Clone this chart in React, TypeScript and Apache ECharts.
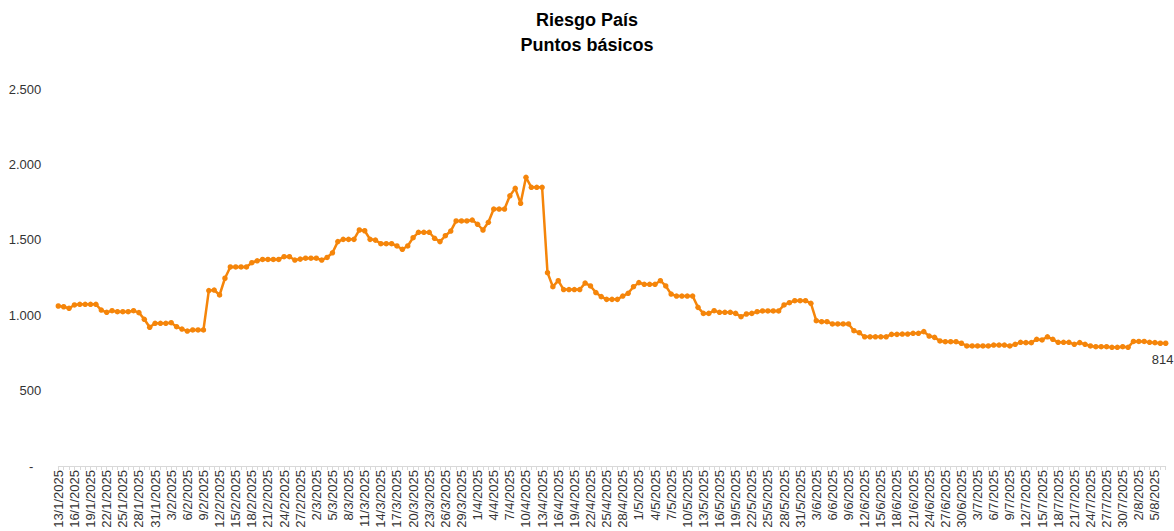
import React, { useEffect, useRef } from "react";
import * as echarts from "echarts";

// Daily series from 13/1/2025 (one point per calendar day)
const startDay = { d: 13, m: 1, y: 2025 };
const riesgoPais: number[] = [
  1061, 1056, 1046, 1068, 1072, 1072, 1072, 1072, 1034, 1019,
  1030, 1023, 1023, 1023, 1030, 1017, 973, 920, 946, 946,
  946, 950, 924, 908, 895, 902, 902, 902, 1163, 1167,
  1134, 1245, 1320, 1320, 1320, 1320, 1348, 1361, 1370, 1370,
  1370, 1370, 1388, 1388, 1366, 1372, 1378, 1378, 1378, 1366,
  1383, 1414, 1488, 1503, 1503, 1503, 1565, 1560, 1503, 1498,
  1474, 1474, 1474, 1459, 1437, 1459, 1514, 1550, 1550, 1550,
  1510, 1488, 1527, 1558, 1625, 1625, 1625, 1631, 1603, 1565,
  1616, 1704, 1704, 1704, 1792, 1841, 1742, 1914, 1848, 1848,
  1848, 1282, 1189, 1229, 1170, 1170, 1170, 1170, 1213, 1194,
  1150, 1123, 1105, 1105, 1105, 1127, 1145, 1189, 1216, 1205,
  1205, 1205, 1229, 1194, 1140, 1127, 1127, 1127, 1127, 1052,
  1012, 1012, 1030, 1019, 1019, 1019, 1012, 990, 1008, 1012,
  1023, 1028, 1028, 1028, 1028, 1068, 1083, 1096, 1096, 1096,
  1079, 964, 957, 957, 942, 942, 942, 942, 897, 884,
  857, 857, 857, 857, 857, 873, 873, 875, 875, 880,
  880, 891, 862, 853, 829, 824, 824, 824, 814, 796,
  796, 796, 796, 796, 802, 802, 802, 796, 807, 820,
  818, 818, 840, 836, 857, 840, 820, 820, 820, 807,
  818, 807, 796, 791, 791, 791, 787, 787, 791, 787,
  826, 826, 826, 820, 818, 814, 814,
];

const yTicks = [0, 500, 1000, 1500, 2000, 2500];
const titleLines = ["Riesgo País", "Puntos básicos"];

function buildDates(count: number): string[] {
  const out: string[] = [];
  const base = new Date(Date.UTC(startDay.y, startDay.m - 1, startDay.d));
  for (let i = 0; i < count; i++) {
    const dt = new Date(base.getTime() + i * 86400000);
    out.push(`${dt.getUTCDate()}/${dt.getUTCMonth() + 1}/${dt.getUTCFullYear()}`);
  }
  return out;
}

const fmtThousands = (v: number) =>
  String(v).replace(/\B(?=(\d{3})+(?!\d))/g, ".");

const FONT = "'Liberation Sans', Arial, sans-serif";
const ORANGE = "#f5850a";

export default function App() {
  const ref = useRef<HTMLDivElement>(null);

  useEffect(() => {
    if (!ref.current) return;
    const chart = echarts.init(ref.current, undefined, { renderer: "svg" });
    const dates = buildDates(riesgoPais.length);
    const last = riesgoPais.length - 1;
    const seriesData = riesgoPais.map((v, i) =>
      i === last
        ? {
            value: v,
            label: {
              show: true,
              position: "bottom",
              distance: 7,
              offset: [-3, 0],
              formatter: String(v),
              color: "#333",
              fontSize: 13,
              fontFamily: FONT,
            },
          }
        : v
    );

    chart.setOption({
      animation: false,
      backgroundColor: "#ffffff",
      title: {
        text: titleLines.join("\n"),
        left: "center",
        top: 7.5,
        padding: 0,
        textStyle: {
          fontFamily: FONT,
          fontSize: 18,
          fontWeight: "bold",
          color: "#000",
          lineHeight: 25,
        },
      },
      grid: {
        left: 58.3,
        right: 8.3,
        top: 89,
        bottom: 65,
        containLabel: false,
      },
      xAxis: {
        type: "category",
        data: dates,
        boundaryGap: false,
        axisLine: { show: true, lineStyle: { color: "#d9d9d9", width: 1 } },
        axisTick: {
          show: true,
          interval: 0,
          length: 4,
          lineStyle: { color: "#d9d9d9" },
        },
        axisLabel: {
          interval: 2,
          rotate: 90,
          margin: 4,
          fontSize: 13,
          fontFamily: FONT,
          color: "#333",
        },
        splitLine: { show: false },
      },
      yAxis: {
        type: "value",
        min: yTicks[0],
        max: yTicks[yTicks.length - 1],
        interval: 500,
        axisLine: { show: false },
        axisTick: { show: false },
        splitLine: { show: false },
        axisLabel: {
          margin: 17,
          fontSize: 13,
          fontFamily: FONT,
          color: "#333",
          formatter: (v: number) => (v === 0 ? "{z|-}" : fmtThousands(v)),
          rich: {
            z: {
              fontSize: 13,
              fontFamily: FONT,
              color: "#333",
              padding: [0, 8, 0, 0],
            },
          },
        },
      },
      series: [
        {
          type: "line",
          data: seriesData,
          symbol: "circle",
          symbolSize: 5.5,
          showAllSymbol: true,
          lineStyle: { color: ORANGE, width: 2.5 },
          itemStyle: { color: ORANGE },
        },
      ],
    });

    return () => chart.dispose();
  }, []);

  return (
    <div
      ref={ref}
      style={{ position: "fixed", left: 0, top: 0, width: 1174, height: 531 }}
    />
  );
}
